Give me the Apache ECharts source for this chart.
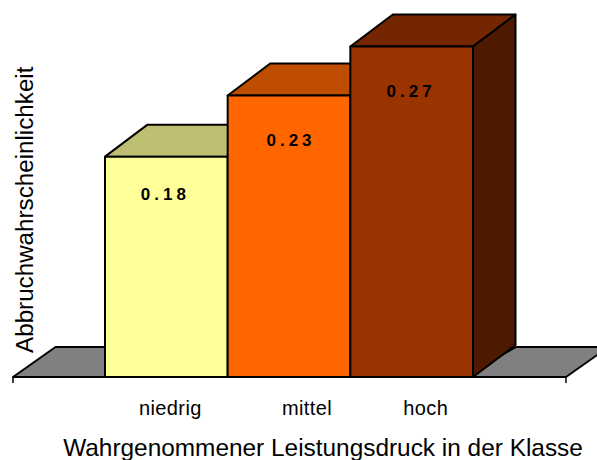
<!DOCTYPE html>
<html><head><meta charset="utf-8">
<script src="https://cdn.jsdelivr.net/npm/echarts@6/dist/echarts.min.js"></script>
<style>
html,body{margin:0;padding:0;background:#fff}
#c{width:597px;height:460px}
svg text[style*="bold"]{letter-spacing:4px}
svg text[style*="20px"]{letter-spacing:.4px}
</style></head><body><div id="c"></div>
<script>
const categories = ['niedrig', 'mittel', 'hoch'];
const values = [0.18, 0.23, 0.27];
const frontColors = ['#FFFF99', '#FF6600', '#993300'];
const topColors = ['#BFBF73', '#BF4D00', '#732600'];
const sideColors = ['#80804D', '#803300', '#4D1A00'];
const labelNudge = [[-1, 38], [2, 45], [-0.5, 45]];
const categoryNudge = [8, 36, 28];

const DX = 42.5, DY = 32;
const stroke = {stroke: '#000', lineWidth: 2, lineJoin: 'round'};

function poly(points, fill) {
  return {type: 'polygon', shape: {points}, style: Object.assign({fill}, stroke)};
}
function renderBar(params, api) {
  const i = api.value(0), v = api.value(1);
  const top = api.coord([i, v]), base = api.coord([i, 0]);
  const w = api.size([1, 0])[0];
  const l = top[0] - w / 2, r = top[0] + w / 2, t = top[1], b = base[1];
  return {type: 'group', children: [
    poly([[l, t], [l + DX, t - DY], [r + DX, t - DY], [r, t]], topColors[i]),
    poly([[r, t], [r + DX, t - DY], [r + DX, b - DY], [r, b]], sideColors[i]),
    poly([[l, t], [r, t], [r, b], [l, b]], frontColors[i]),
    {type: 'text', z2: 10, style: {
      x: top[0] + labelNudge[i][0], y: t + labelNudge[i][1],
      text: v.toFixed(2), align: 'center', verticalAlign: 'middle',
      fill: '#000', font: 'bold 17px "Liberation Sans", Arial, sans-serif'
    }}
  ]};
}
function renderFloor(params, api) {
  const first = api.coord([0, 0]), w = api.size([1, 0])[0];
  const b = first[1];
  const barL = first[0] - w / 2, barR = barL + 3 * w;
  const L = 13, R = 566;
  return {type: 'group', children: [
    poly([[L, b], [L + DX, b - DY + 2], [barL + 10, b - DY + 2], [barL + 10, b]], '#808080'),
    poly([[barR - 10, b], [barR + 43, b - DY + 2], [R + DX, b - DY + 2], [R, b]], '#808080'),
    {type: 'line', shape: {x1: L, y1: b, x2: R, y2: b}, style: {stroke: '#000', lineWidth: 2}, z2: 20},
    {type: 'line', shape: {x1: L, y1: b, x2: L, y2: b + 6}, style: {stroke: '#000', lineWidth: 1.5}},
    {type: 'line', shape: {x1: R, y1: b, x2: R, y2: b + 6}, style: {stroke: '#000', lineWidth: 1.5}}
  ]};
}

const chart = echarts.init(document.getElementById('c'), null, {renderer: 'svg'});
chart.setOption({
  animation: false,
  backgroundColor: '#fff',
  grid: {left: 105, width: 368, top: 46.5, bottom: 83, outerBoundsMode: 'none'},
  xAxis: {
    type: 'category', data: categories.map((c, i) => ({value: c, textStyle: {padding: [0, 0, 0, categoryNudge[i]]}})),
    axisLine: {show: false}, axisTick: {show: false},
    axisLabel: {margin: 21, fontSize: 20, color: '#000', fontFamily: '"Liberation Sans", Arial, sans-serif'},
    name: 'Wahrgenommener Leistungsdruck in der Klasse', nameLocation: 'middle', nameGap: 58,
    nameTextStyle: {fontSize: 24.4, color: '#000', fontFamily: '"Liberation Sans", Arial, sans-serif', padding: [0, 0, 0, 68]}
  },
  yAxis: {
    type: 'value', min: 0, max: 0.27,
    axisLine: {show: false}, axisTick: {show: false}, axisLabel: {show: false}, splitLine: {show: false},
    name: 'Abbruchwahrscheinlichkeit', nameLocation: 'middle', nameGap: 69, nameRotate: 90,
    nameTextStyle: {fontSize: 24.2, color: '#000', fontFamily: '"Liberation Sans", Arial, sans-serif', padding: [3, 0, 0, 4]}
  },
  series: [
    {type: 'custom', coordinateSystem: 'cartesian2d', clip: false, silent: true, z: 1, renderItem: renderFloor, data: [[0, 0]], encode: {x: 0, y: 1}},
    {type: 'custom', coordinateSystem: 'cartesian2d', clip: false, silent: true, z: 2, renderItem: renderBar, data: values.map((v, i) => [i, v]), encode: {x: 0, y: 1}}
  ]
});
</script></body></html>
